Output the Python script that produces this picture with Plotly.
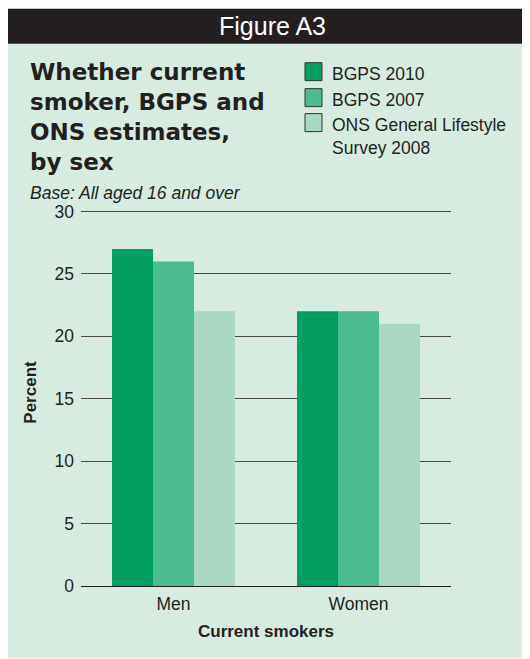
import plotly.graph_objects as go

categories = ["Men", "Women"]
series_names = ["BGPS 2010", "BGPS 2007", "ONS General Lifestyle<br>Survey 2008"]
bgps_2010 = [27, 22]
bgps_2007 = [26, 22]
ons_2008 = [22, 21]
colors = ["#00A160", "#4BBC90", "#AAD8C4"]

OFF = 8  # page body margin
W, H = 530 - OFF, 659 - OFF
# plot area in reference-page pixels (y axis range 0..31, 30 at y=211)
L, R, T, B = 81, 451, 198.5, 586

def xp(px):
    return (px - L) / (R - L)

def yp(py):
    return (B - py) / (B - T)

FONT = "Liberation Sans, Arial, sans-serif"
TXT = "#231F20"
PANEL = "#D8EBE1"

fig = go.Figure()
for name, vals, col in zip(series_names, [bgps_2010, bgps_2007, ons_2008], colors):
    fig.add_trace(go.Bar(x=categories, y=vals, name=name, marker=dict(color=col, line=dict(width=0)),
                         showlegend=False))

shapes = [
    dict(type="rect", xref="paper", yref="paper", x0=xp(OFF), x1=xp(531), y0=yp(43), y1=yp(658),
         fillcolor=PANEL, line=dict(width=0), layer="below"),
    dict(type="rect", xref="paper", yref="paper", x0=xp(OFF), x1=xp(531), y0=yp(OFF), y1=yp(43),
         fillcolor="#231F20", line=dict(width=0), layer="below"),
]
annotations = [
    dict(text="Figure A3", xref="paper", yref="paper", x=xp(272), y=yp(25), xanchor="center", yanchor="middle",
         showarrow=False, font=dict(family=FONT, size=25, color="white")),
    dict(text="Whether current<br>smoker, BGPS and<br>ONS estimates,<br>by sex", xref="paper", yref="paper",
         x=xp(28), y=yp(56), xanchor="left", yanchor="top", align="left", showarrow=False,
         font=dict(family="DejaVu Sans", size=23, color=TXT, weight="bold")),
    dict(text="<i>Base: All aged 16 and over</i>", xref="paper", yref="paper", x=xp(28), y=yp(192),
         xanchor="left", yanchor="middle", showarrow=False, font=dict(family=FONT, size=17.5, color=TXT)),
]

# legend drawn as swatches + labels
leg_tops = [62, 88, 113]
for i, (name, col) in enumerate(zip(series_names, colors)):
    t = leg_tops[i]
    shapes.append(dict(type="rect", xref="paper", yref="paper", x0=xp(305), x1=xp(322), y0=yp(t), y1=yp(t + 18),
                       fillcolor=col, line=dict(color="#333333", width=1)))
    annotations.append(dict(text=name, xref="paper", yref="paper", x=xp(330), y=yp(t - 1), xanchor="left",
                            yanchor="top", align="left", showarrow=False,
                            font=dict(family=FONT, size=17.5, color=TXT)))

fig.update_layout(
    width=W, height=H,
    margin=dict(l=L - OFF, r=W - (R - OFF), t=T - OFF, b=H - (B - OFF), autoexpand=False),
    paper_bgcolor="white", plot_bgcolor=PANEL,
    barmode="group", bargap=0.335, bargroupgap=0,
    shapes=shapes, annotations=annotations,
    font=dict(family=FONT, color=TXT),
    xaxis=dict(showgrid=False, showline=False, zeroline=False, ticks="",
               tickfont=dict(size=17.5, color=TXT), ticklabelstandoff=5,
               title=dict(text="<b>Current smokers</b>", font=dict(size=17, color=TXT), standoff=12)),
    yaxis=dict(range=[0, 31], tick0=0, dtick=5, showgrid=True, gridcolor="#4A4A4A", gridwidth=1.2,
               zeroline=True, zerolinecolor="#231F20", zerolinewidth=1.3, showline=False, ticks="",
               tickfont=dict(size=17.5, color=TXT), ticklabelstandoff=6,
               title=dict(text="<b>Percent</b>", font=dict(size=17, color=TXT), standoff=13)),
)

fig.write_html("out.html")
